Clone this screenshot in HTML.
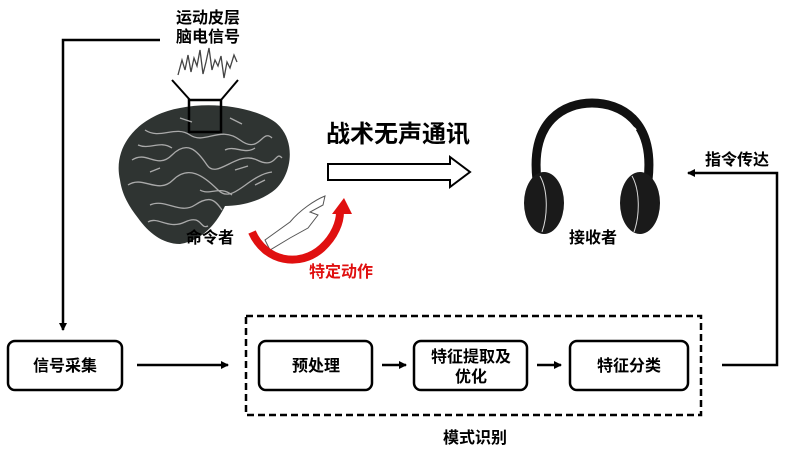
<!DOCTYPE html>
<html><head><meta charset="utf-8"><style>
body{margin:0;width:788px;height:455px;background:#fff;overflow:hidden;font-family:"Liberation Sans","Noto Sans CJK SC",sans-serif;}
svg{position:absolute;left:0;top:0}
text{font-family:"Liberation Sans","Noto Sans CJK SC",sans-serif;font-weight:bold;}
</style></head><body>
<svg width="788" height="455" viewBox="0 0 788 455">
<defs>
<marker id="a" markerWidth="8" markerHeight="8" refX="7" refY="4" orient="auto" markerUnits="userSpaceOnUse"><path d="M0,0 L8,4 L0,8 z" fill="#000"/></marker>
</defs>
<text x="208" y="23" font-size="16" text-anchor="middle">运动皮层</text>
<text x="208" y="42" font-size="16" text-anchor="middle">脑电信号</text>
<polyline points="160,40 63,40 63,330" fill="none" stroke="#000" stroke-width="2.5" marker-end="url(#a)"/>
<polyline points="178,75 182,60 185,70 188,55 191,72 194,58 197,66 200,50 203,74 206,62 209,48 212,70 215,60 218,66 221,56 224,78 227,62 230,68 234,55 237,62" fill="none" stroke="#444" stroke-width="1.3"/>
<line x1="172" y1="80" x2="190" y2="100" stroke="#000" stroke-width="2"/>
<line x1="238" y1="80" x2="221" y2="100" stroke="#000" stroke-width="2"/>
<path d="M120,180 C112,145 140,115 180,108 C215,101 255,108 275,122 C298,140 292,178 272,192 C258,202 240,206 225,206 C218,220 205,240 180,244 C162,244 148,232 138,218 C128,205 122,194 120,180 Z" fill="#2f3432"/>
<rect x="189" y="100" width="32" height="32" fill="none" stroke="#000" stroke-width="2.5"/>
<g stroke="#aaa" stroke-width="1.3" fill="none">
<path d="M132,160 C147,150 157,170 172,155 S197,150 207,165 S237,150 257,160 S275,150 282,158"/>
<path d="M128,185 C143,175 158,195 173,180 S203,175 218,190 S248,175 272,172"/>
<path d="M145,130 C160,140 175,125 190,135 S220,125 240,140 S262,128 272,138"/>
<path d="M150,205 C165,198 180,215 195,205 S215,200 222,210"/>
<path d="M148,222 C158,216 168,230 185,222 S200,230 208,226"/>
<path d="M138,145 C150,150 160,140 172,148 M225,150 C235,145 245,155 255,148 M200,190 C210,196 220,185 232,195"/>
<path d="M150,172 L160,168 M235,170 L248,166 M180,118 L192,122 M230,118 L242,124 M255,185 L265,180"/>
</g>
<text x="210" y="243" font-size="16" text-anchor="middle">命令者</text>
<path d="M265,240 L290,222 C300,210 315,200 325,196 L323,205 L310,212 L318,215 L308,228 L290,238 L270,250 Z" fill="#fff" stroke="#555" stroke-width="1"/>
<path d="M252,232 C265,262 300,268 322,248 C335,236 340,222 340,212" fill="none" stroke="#e01010" stroke-width="8"/>
<path d="M332,214 L344,198 L352,214 Z" fill="#e01010"/>
<text x="341" y="277" font-size="16" text-anchor="middle" fill="#e01010">特定动作</text>
<text x="398" y="142" font-size="24" text-anchor="middle">战术无声通讯</text>
<path d="M328,164 L450,164 L450,157 L470,172 L450,187 L450,180 L328,180 Z" fill="#fff" stroke="#000" stroke-width="2"/>
<path d="M537,180 C530,120 565,103 592,103 C620,103 655,120 648,180" fill="none" stroke="#111" stroke-width="9"/>
<path d="M550,130 C565,112 620,112 636,130" fill="none" stroke="#fff" stroke-width="2"/>
<ellipse cx="544" cy="203" rx="20" ry="31" fill="#1a1a1a"/>
<ellipse cx="640" cy="203" rx="20" ry="31" fill="#1a1a1a"/>
<path d="M540,176 C548,190 548,215 542,232 M632,176 C640,190 640,215 634,232" stroke="#ddd" stroke-width="1" fill="none"/>
<text x="593" y="243" font-size="16" text-anchor="middle">接收者</text>
<text x="737" y="165" font-size="16" text-anchor="middle">指令传达</text>
<polyline points="722,365 777,365 777,173 688,173" fill="none" stroke="#000" stroke-width="2.5" marker-end="url(#a)"/>
<rect x="8" y="341" width="114" height="49" rx="7" fill="#fff" stroke="#000" stroke-width="2.5"/>
<text x="65" y="371" font-size="16" text-anchor="middle">信号采集</text>
<line x1="137" y1="365" x2="228" y2="365" stroke="#000" stroke-width="2.5" marker-end="url(#a)"/>
<rect x="246" y="316" width="455" height="99" fill="none" stroke="#000" stroke-width="2.5" stroke-dasharray="7,4"/>
<rect x="259" y="341" width="113" height="49" rx="7" fill="#fff" stroke="#000" stroke-width="2.5"/>
<text x="316" y="371" font-size="16" text-anchor="middle">预处理</text>
<line x1="382" y1="365" x2="406" y2="365" stroke="#000" stroke-width="2.5" marker-end="url(#a)"/>
<rect x="414" y="341" width="113" height="49" rx="7" fill="#fff" stroke="#000" stroke-width="2.5"/>
<text x="471" y="362" font-size="16" text-anchor="middle">特征提取及</text>
<text x="471" y="382" font-size="16" text-anchor="middle">优化</text>
<line x1="537" y1="365" x2="561" y2="365" stroke="#000" stroke-width="2.5" marker-end="url(#a)"/>
<rect x="570" y="341" width="118" height="49" rx="7" fill="#fff" stroke="#000" stroke-width="2.5"/>
<text x="629" y="371" font-size="16" text-anchor="middle">特征分类</text>
<text x="475" y="443" font-size="16" text-anchor="middle">模式识别</text>
</svg>
</body></html>
